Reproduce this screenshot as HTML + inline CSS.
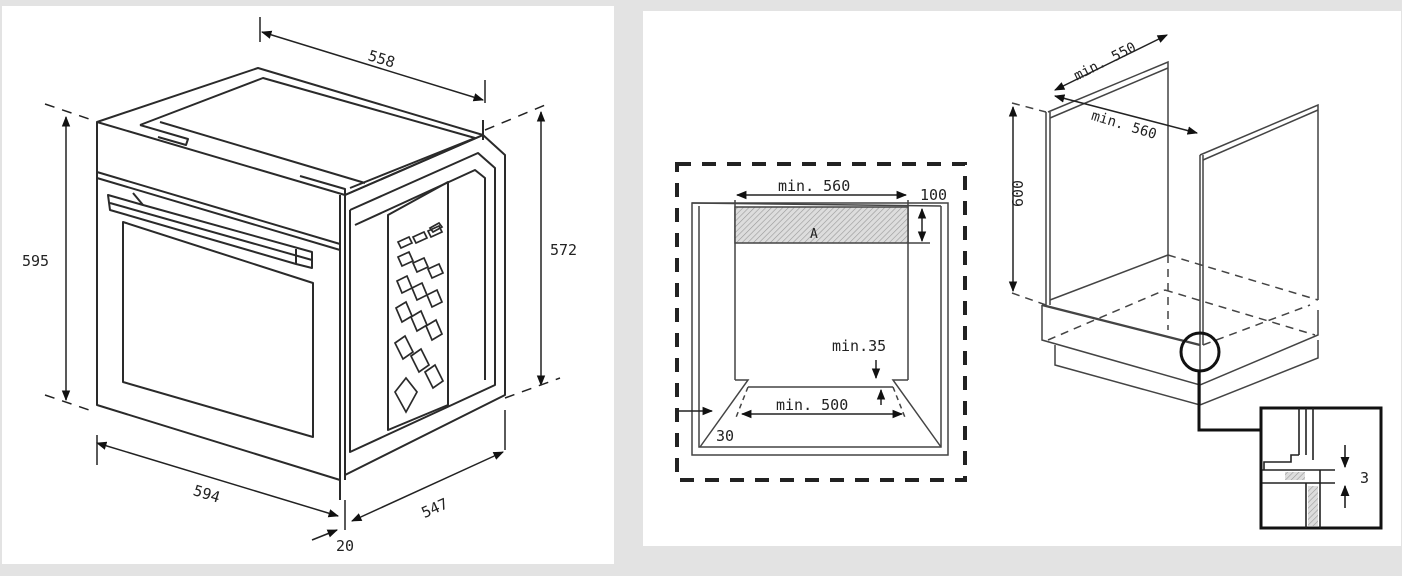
<!DOCTYPE html>
<html><head><meta charset="utf-8"><style>
html,body{margin:0;padding:0;background:#e3e3e3;}
svg{display:block}
text{font-family:"DejaVu Sans Mono","Liberation Mono",monospace;fill:#222}
</style></head><body>
<svg width="1402" height="576" viewBox="0 0 1402 576" xmlns="http://www.w3.org/2000/svg">
<defs>
<marker id="a" viewBox="0 0 10 10" refX="9" refY="5" markerWidth="7" markerHeight="7" orient="auto-start-reverse"><path d="M0,1 L10,5 L0,9z" fill="#111"/></marker>
<pattern id="h" width="4" height="4" patternUnits="userSpaceOnUse" patternTransform="rotate(45)"><rect width="4" height="4" fill="#ddd"/><line x1="0" y1="0" x2="0" y2="4" stroke="#999" stroke-width="1.2"/></pattern>
</defs>
<rect x="2" y="6" width="612" height="558" fill="#fff"/>
<rect x="643" y="11" width="758" height="535" fill="#fff"/>

<g fill="none" stroke="#2a2a2a" stroke-width="2" stroke-linejoin="round">
<polygon points="97,122 258,68 483,135 345,195"/>
<polyline points="140,125 263,78 475,138 350,188"/>
<line x1="160" y1="122" x2="365" y2="183"/>
<polyline points="140,125 188,139 186,145 158,137"/>
<polyline points="300,176 345,189 345,195"/>
<polyline points="97,122 97,405 340,480"/>
<line x1="345" y1="195" x2="345" y2="480"/>
<line x1="340" y1="195" x2="340" y2="500"/>
<line x1="97" y1="172" x2="340" y2="244"/>
<line x1="97" y1="178" x2="340" y2="250"/>
<polygon points="108,195 143,205 312,252 312,268 296,264 110,210"/>
<line x1="110" y1="203" x2="312" y2="260"/>
<line x1="133" y1="193" x2="143" y2="205"/>
<line x1="296" y1="249" x2="296" y2="264"/>
<polygon points="123,222 313,283 313,437 123,382"/>
<polyline points="345,195 483,135 505,155 505,395 345,475"/>
<polyline points="350,210 478,153 495,168 495,385 350,452 350,210"/>
<polyline points="355,225 475,170 485,178 485,380"/>
<polygon points="388,215 448,182 448,405 388,430"/>
<line x1="483" y1="120" x2="483" y2="140"/>
</g>
<g fill="none" stroke="#2a2a2a" stroke-width="1.7">
<path d="M430,228 l9,-5 l3,4 l-9,5z"/>
<path d="M398,242 l11,-5 l3,6 l-11,5z M413,237 l11,-5 l3,6 l-11,5z M428,231 l11,-5 l3,6 l-11,5z"/>
<path d="M398,257 l11,-5 l4,9 l-11,5z M413,263 l11,-5 l4,9 l-11,5z M428,269 l11,-5 l4,9 l-11,5z"/>
<path d="M397,281 l10,-5 l5,12 l-10,5z M412,288 l10,-5 l5,12 l-10,5z M427,295 l10,-5 l5,12 l-10,5z"/>
<path d="M396,308 l10,-6 l6,14 l-10,6z M411,317 l10,-6 l6,14 l-10,6z M426,326 l10,-6 l6,14 l-10,6z"/>
<path d="M395,343 l10,-7 l8,16 l-10,7z M411,356 l10,-7 l8,16 l-10,7z M425,372 l10,-7 l8,16 l-10,7z"/>
<path d="M395,392 l11,-14 l11,14 l-11,20z"/>
</g>
<g fill="none" stroke="#222" stroke-width="1.5">
<line x1="262" y1="32" x2="483" y2="100" marker-start="url(#a)" marker-end="url(#a)"/>
<line x1="260" y1="17" x2="260" y2="42"/><line x1="485" y1="80" x2="485" y2="103"/>
<line x1="66" y1="117" x2="66" y2="400" marker-start="url(#a)" marker-end="url(#a)"/>
<line x1="45" y1="104" x2="95" y2="121" stroke-dasharray="10,8"/>
<line x1="45" y1="395" x2="95" y2="412" stroke-dasharray="10,8"/>
<line x1="541" y1="112" x2="541" y2="385" marker-start="url(#a)" marker-end="url(#a)"/>
<line x1="485" y1="130" x2="550" y2="103" stroke-dasharray="10,8"/>
<line x1="505" y1="398" x2="560" y2="378" stroke-dasharray="10,8"/>
<line x1="97" y1="443" x2="338" y2="516" marker-start="url(#a)" marker-end="url(#a)"/>
<line x1="97" y1="435" x2="97" y2="465"/>
<line x1="505" y1="410" x2="505" y2="450"/>
<line x1="352" y1="521" x2="503" y2="452" marker-start="url(#a)" marker-end="url(#a)"/>
<line x1="312" y1="540" x2="337" y2="530" marker-end="url(#a)"/>
<line x1="345" y1="500" x2="345" y2="530"/>
</g>
<g font-size="15">
<text x="368" y="66" transform="rotate(17 388 60)">558</text>
<text x="22" y="266">595</text>
<text x="550" y="255">572</text>
<text x="193" y="500" transform="rotate(17 210 495)">594</text>
<text x="420" y="512" transform="rotate(-24 437 505)">547</text>
<text x="336" y="551">20</text>
</g>

<rect x="677" y="164" width="288" height="316" fill="none" stroke="#222" stroke-width="4" stroke-dasharray="14,11"/>
<g fill="none" stroke="#444" stroke-width="1.5">
<polygon points="692,203 948,203 948,455 692,455"/>
<polyline points="699,206 699,447 941,447 941,206"/>
<line x1="692" y1="203" x2="941" y2="206"/>
<line x1="735" y1="200" x2="735" y2="380"/>
<line x1="908" y1="200" x2="908" y2="380"/>
<rect x="735" y="207" width="173" height="36" fill="url(#h)"/>
<polyline points="735,380 748,380 700,447"/>
<polyline points="908,380 893,380 941,447"/>
<line x1="748" y1="387" x2="893" y2="387"/>
<line x1="748" y1="387" x2="735" y2="420" stroke-dasharray="5,4"/>
<line x1="893" y1="387" x2="906" y2="420" stroke-dasharray="5,4"/>
<line x1="908" y1="243" x2="930" y2="243"/>
</g>
<g stroke="#222" stroke-width="1.5" fill="none">
<line x1="737" y1="195" x2="906" y2="195" marker-start="url(#a)" marker-end="url(#a)"/>
<line x1="922" y1="209" x2="922" y2="241" marker-start="url(#a)" marker-end="url(#a)"/>
<line x1="742" y1="414" x2="902" y2="414" marker-start="url(#a)" marker-end="url(#a)"/>
<line x1="676" y1="411" x2="712" y2="411" marker-end="url(#a)"/>
<line x1="876" y1="360" x2="876" y2="378" marker-end="url(#a)"/>
<line x1="881" y1="405" x2="881" y2="390" marker-end="url(#a)"/>
</g>
<g font-size="15">
<text x="778" y="191">min. 560</text>
<text x="920" y="200">100</text>
<text x="810" y="238" font-size="13">A</text>
<text x="832" y="351">min.35</text>
<text x="776" y="410">min. 500</text>
<text x="716" y="441">30</text>
</g>

<g fill="none" stroke="#444" stroke-width="1.5">
<line x1="1046" y1="112" x2="1046" y2="305"/>
<line x1="1050" y1="112" x2="1050" y2="305"/>
<polyline points="1048,112 1168,62 1168,255"/>
<line x1="1050" y1="118" x2="1168" y2="68"/>
<line x1="1200" y1="155" x2="1200" y2="345"/>
<line x1="1203" y1="155" x2="1203" y2="345"/>
<polyline points="1200,155 1318,105 1318,300"/>
<line x1="1203" y1="160" x2="1318" y2="110"/>
<line x1="1050" y1="300" x2="1168" y2="255"/>
<line x1="1168" y1="255" x2="1318" y2="300" stroke-dasharray="8,6"/>
<line x1="1168" y1="255" x2="1168" y2="330" stroke-dasharray="8,6"/>
<line x1="1048" y1="340" x2="1165" y2="290" stroke-dasharray="8,6"/>
<line x1="1165" y1="290" x2="1315" y2="335" stroke-dasharray="8,6"/>
<line x1="1203" y1="345" x2="1310" y2="305" stroke-dasharray="8,6"/>
<line x1="1012" y1="103" x2="1046" y2="112" stroke-dasharray="8,6"/>
<line x1="1012" y1="293" x2="1046" y2="305" stroke-dasharray="8,6"/>
<polyline points="1042,305 1042,340 1200,385 1318,335 1318,310"/>
<line x1="1042" y1="305" x2="1200" y2="345" stroke-width="2.4"/>
<line x1="1200" y1="345" x2="1200" y2="385"/>
<polyline points="1055,345 1055,365 1200,405 1318,358 1318,340"/>
<line x1="1200" y1="385" x2="1200" y2="405"/>
</g>
<g stroke="#222" stroke-width="1.5" fill="none">
<line x1="1013" y1="107" x2="1013" y2="291" marker-start="url(#a)" marker-end="url(#a)"/>
<line x1="1055" y1="90" x2="1167" y2="35" marker-start="url(#a)" marker-end="url(#a)"/>
<line x1="1055" y1="96" x2="1197" y2="133" marker-start="url(#a)" marker-end="url(#a)"/>
</g>
<g font-size="14">
<text x="1070" y="68" transform="rotate(-27 1100 60)">min. 550</text>
<text x="1088" y="130" transform="rotate(17 1125 133)">min. 560</text>
<text x="1004" y="222" transform="rotate(-90 1006 205)" font-size="15">600</text>
</g>
<circle cx="1200" cy="352" r="19" fill="none" stroke="#111" stroke-width="3"/>
<polyline points="1199,371 1199,430 1261,430" fill="none" stroke="#111" stroke-width="3"/>
<rect x="1261" y="408" width="120" height="120" fill="#fff" stroke="#111" stroke-width="3"/>
<g fill="none" stroke="#222" stroke-width="1.6">
<line x1="1299" y1="408" x2="1299" y2="455"/>
<line x1="1306" y1="408" x2="1306" y2="455"/>
<line x1="1313" y1="408" x2="1313" y2="460"/>
<polyline points="1299,455 1291,455 1291,462 1264,462 1264,470"/>
<line x1="1262" y1="470" x2="1335" y2="470"/>
<line x1="1262" y1="483" x2="1335" y2="483"/>
<line x1="1306" y1="483" x2="1306" y2="528"/>
<line x1="1320" y1="470" x2="1320" y2="528"/>
<rect x="1285" y="472" width="20" height="8" fill="url(#h)" stroke="none"/>
<rect x="1308" y="486" width="10" height="40" fill="url(#h)" stroke="none"/>
<line x1="1345" y1="445" x2="1345" y2="467" marker-end="url(#a)"/>
<line x1="1345" y1="508" x2="1345" y2="486" marker-end="url(#a)"/>
</g>
<text x="1360" y="483" font-size="15" font-family="Liberation Sans">3</text>
</svg>
</body></html>
